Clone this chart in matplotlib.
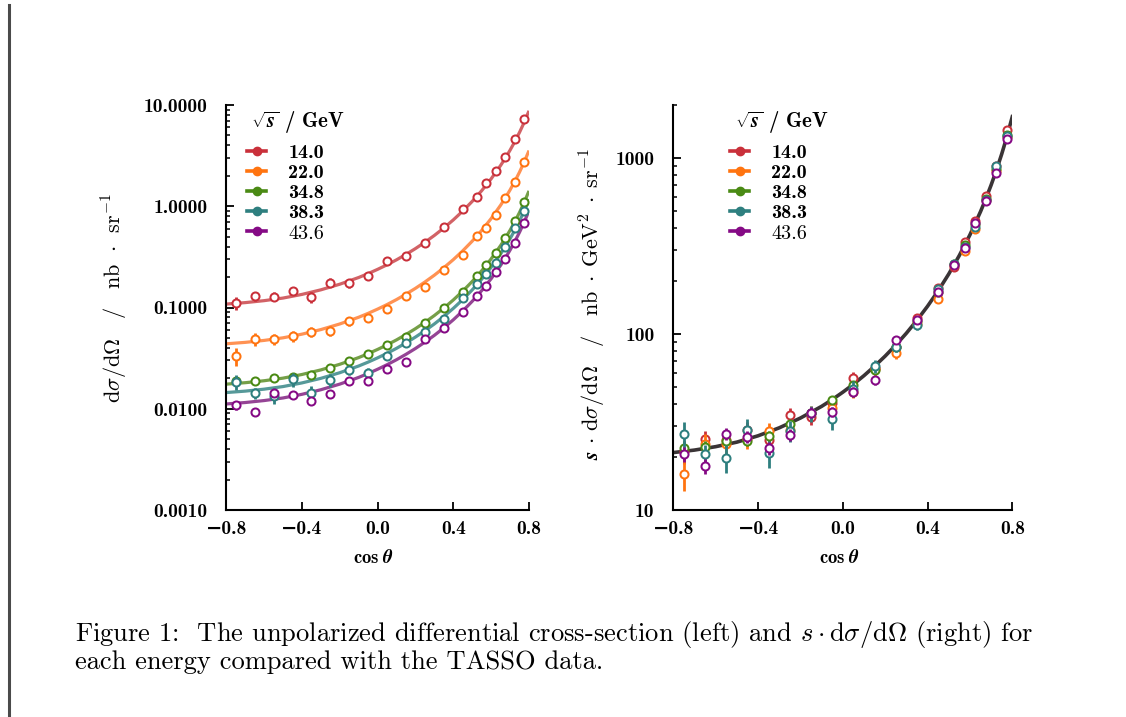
import numpy as np
import matplotlib
matplotlib.use("Agg")
import matplotlib.pyplot as plt
from matplotlib.lines import Line2D
from matplotlib.ticker import FixedLocator, FixedFormatter, LogLocator, NullFormatter

plt.rcParams['mathtext.fontset'] = 'cm'
plt.rcParams['font.family'] = 'cmr10'
plt.rcParams['axes.unicode_minus'] = False
plt.rcParams['axes.formatter.use_mathtext'] = True

# ---------------- data ----------------
energies = [14.0, 22.0, 34.8, 38.3, 43.6]
energy_labels = ["14.0", "22.0", "34.8", "38.3", "43.6"]
point_colors = ['#c9303a', '#ff7410', '#4a8a14', '#2e7f7f', '#850a85']
curve_colors = ['#d05a5e', '#ff8c4a', '#6e9a3e', '#4d9494', '#8f3a8f']

cos_bins = [-0.75, -0.65, -0.55, -0.45, -0.35, -0.25, -0.15, -0.05, 0.05, 0.15,
            0.25, 0.35, 0.45, 0.525, 0.575, 0.625, 0.675, 0.725, 0.775]

# dsigma/dOmega  [nb/sr]
xs_14 = [0.110, 0.130, 0.128, 0.146, 0.127, 0.176, 0.173, 0.206, 0.286, 0.325,
         0.431, 0.625, 0.933, 1.23, 1.69, 2.23, 3.09, 4.62, 7.33]
xs_22 = [0.0332, 0.0489, 0.0489, 0.0524, 0.0577, 0.0586, 0.0731, 0.0782, 0.0966, 0.130,
         0.161, 0.235, 0.327, 0.512, 0.614, 0.820, 1.197, 1.736, 2.735]
xs_348 = [0.0186, 0.0188, 0.0203, 0.0204, 0.0217, 0.0254, 0.0293, 0.0348, 0.0422, 0.0515,
          0.0699, 0.0982, 0.143, 0.205, 0.263, 0.348, 0.482, 0.716, 1.109]
xs_383 = [0.0184, 0.0142, 0.0135, 0.0195, 0.0143, 0.0192, 0.0241, 0.0224, 0.0334, 0.0447,
          0.0577, 0.0767, 0.1233, 0.1695, 0.213, 0.277, 0.393, 0.614, 0.903]
xs_436 = [0.0109, 0.00932, 0.0142, 0.0137, 0.0118, 0.0141, 0.0188, 0.0190, 0.0247, 0.0288,
          0.0489, 0.0631, 0.0910, 0.130, 0.163, 0.226, 0.299, 0.434, 0.678]

# relative uncertainties [%]
err_14 = [15, 10, 10, 10, 12, 10, 10, 8, 8, 7, 7, 6, 5, 5, 5, 4, 4, 4, 3]
err_22 = [20, 14, 13, 12, 12, 11, 10, 9, 8, 8, 7, 6, 5, 5, 5, 4, 4, 3, 3]
err_348 = [9, 8, 8, 7, 7, 6, 6, 5, 5, 4, 4, 3, 3, 3, 3, 3, 2, 2, 2]
err_383 = [17, 12, 18, 15, 17, 14, 10, 13, 10, 9, 7, 6, 5, 5, 4, 4, 4, 3, 3]
err_436 = [10, 10, 8, 8, 8, 8, 7, 7, 6, 6, 5, 5, 4, 4, 3, 3, 3, 3, 3]

# universal curve: s * dsigma/dOmega  [nb GeV^2 / sr]
curve_cos = [-0.8, -0.7, -0.6, -0.5, -0.4, -0.3, -0.2, -0.1, -0.05, 0.0, 0.05, 0.1, 0.15,
             0.2, 0.25, 0.3, 0.35, 0.4, 0.45, 0.5, 0.55, 0.6, 0.65, 0.675, 0.7, 0.725,
             0.75, 0.775, 0.8]
curve_sxs = [21.2, 21.9, 22.9, 24.3, 26.4, 29.3, 33.3, 38.8, 42.4, 46.7, 51.8, 58.0, 65.6,
             74.9, 86.5, 101.0, 119.7, 143.8, 175.8, 219.1, 279.3, 365.9, 495.8, 586.2,
             701.7, 852.2, 1052.9, 1327.0, 1717.5]

left_yticks = [0.001, 0.01, 0.1, 1.0, 10.0]
left_yticklabels = ["0.0010", "0.0100", "0.1000", "1.0000", "10.0000"]
right_yticks = [10, 100, 1000]
right_yticklabels = ["10", "100", "1000"]
xticks = [-0.8, -0.4, 0.0, 0.4, 0.8]
xticklabels = ["\u22120.8", "\u22120.4", "0.0", "0.4", "0.8"]

xs_all = [xs_14, xs_22, xs_348, xs_383, xs_436]
err_all = [err_14, err_22, err_348, err_383, err_436]

# ---------------- figure ----------------
W, H = 1126, 717
fig = plt.figure(figsize=(W / 100, H / 100), dpi=100)

def fx(px):
    return px / W

def fy(py):
    return 1 - py / H

ax1 = fig.add_axes([fx(226.3), fy(510), (529 - 226.3) / W, 405 / H])
ax2 = fig.add_axes([fx(673.3), fy(510), 339 / W, 405 / H])

cc = np.array(curve_cos)
cs = np.array(curve_sxs)
xb = np.array(cos_bins)

for i, E in enumerate(energies):
    s = E ** 2
    ax1.plot(cc, cs / s, color=curve_colors[i], lw=2.3, alpha=0.95, zorder=2,
             solid_capstyle='butt')

ax2.plot(cc, cs, color='#3a3436', lw=2.6, zorder=2)

for i, E in enumerate(energies):
    s = E ** 2
    v = np.array(xs_all[i])
    e = v * np.array(err_all[i]) / 100.0
    ax1.errorbar(xb, v, yerr=e, fmt='o', color=point_colors[i], mfc='white',
                 mec=point_colors[i], ms=5.8, mew=1.45, elinewidth=2.0, capsize=0,
                 zorder=3 + i)
    ax2.errorbar(xb, v * s, yerr=e * s, fmt='o', color=point_colors[i], mfc='white',
                 mec=point_colors[i], ms=5.8, mew=1.45, elinewidth=2.0, capsize=0,
                 zorder=3 + i)

tick_fs = 14
tick_family = ['cmb10', 'DejaVu Sans']
for ax in (ax1, ax2):
    ax.set_yscale('log')
    ax.set_xlim(-0.8, 0.8)
    for sp in ('top', 'right'):
        ax.spines[sp].set_visible(False)
    for sp in ('left', 'bottom'):
        ax.spines[sp].set_linewidth(1.5)
    ax.xaxis.set_major_locator(FixedLocator(xticks))
    ax.xaxis.set_major_formatter(FixedFormatter(xticklabels))
    ax.yaxis.set_minor_locator(LogLocator(base=10, subs=np.arange(2, 10), numticks=20))
    ax.yaxis.set_minor_formatter(NullFormatter())
    ax.tick_params(which='major', direction='in', length=5.5, width=1.3, labelsize=tick_fs)
    ax.tick_params(which='minor', direction='in', length=3.0, width=1.1)
    ax.tick_params(axis='y', pad=13.5)
    ax.tick_params(axis='x', pad=7)
    ax.tick_params(top=False, right=False)

ax1.set_ylim(0.001, 10)
ax1.yaxis.set_major_locator(FixedLocator(left_yticks))
ax1.yaxis.set_major_formatter(FixedFormatter(left_yticklabels))
ax2.set_ylim(10, 2000)
ax2.yaxis.set_major_locator(FixedLocator(right_yticks))
ax2.yaxis.set_major_formatter(FixedFormatter(right_yticklabels))

for ax in (ax1, ax2):
    for lab in ax.get_xticklabels() + ax.get_yticklabels():
        lab.set_fontfamily(tick_family)
        lab.set_fontweight('bold')

# axis labels
lab_fs = 16
fig.text(fx(115), fy(298),
         r'$\mathrm{d}\sigma/\mathrm{d}\Omega\quad/\quad\mathrm{nb}\;\,\cdot\;\,\mathrm{sr}^{-1}$',
         rotation=90, ha='center', va='center', fontsize=lab_fs)
fig.text(fx(593), fy(304),
         r'$\boldsymbol{s}\,\cdot\,\mathrm{d}\sigma/\mathrm{d}\Omega\quad/\quad\mathrm{nb}\;\cdot\;\mathrm{GeV}^{2}\;\cdot\;\mathrm{sr}^{-1}$',
         rotation=90, ha='center', va='center', fontsize=lab_fs)
fig.text(fx(373), fy(558), r'$\mathbf{cos}\;\boldsymbol{\theta}$', ha='center', va='center', fontsize=13.5)
fig.text(fx(839), fy(558), r'$\mathbf{cos}\;\boldsymbol{\theta}$', ha='center', va='center', fontsize=13.5)

# legends
leg_fs = 14.5
handles = [Line2D([0], [0], color=c, lw=2.6, marker='o', ms=6, mfc=c, mec=c)
           for c in point_colors]
for ax, hx, tx, axl, axw in ((ax1, 247, 251, 226.3, 302.7), (ax2, 730, 735, 673.3, 339)):
    leg = ax.legend(handles, energy_labels, loc='upper left',
                    bbox_to_anchor=((hx - axl) / axw, (510 - 144) / 405),
                    frameon=False, borderaxespad=0, borderpad=0,
                    handlelength=0.95, handletextpad=1.1, labelspacing=0.1,
                    prop={'family': 'cmb10', 'size': leg_fs})
    leg.get_texts()[4].set_fontfamily('cmr10')
    fig.text(fx(tx), fy(122.5), r'$\sqrt{\boldsymbol{s}}$ / GeV', ha='left', va='center',
             fontsize=15, fontfamily='cmb10')

# caption
cap_fs = 19.1
fig.text(fx(75), fy(641),
         r'Figure 1:  The unpolarized differential cross-section (left) and $s\cdot\mathrm{d}\sigma/\mathrm{d}\Omega$ (right) for',
         ha='left', va='baseline', fontsize=cap_fs, fontfamily='cmr10')
fig.text(fx(75), fy(669), 'each energy compared with the TASSO data.',
         ha='left', va='baseline', fontsize=cap_fs, fontfamily='cmr10')

# left vertical rule
fig.add_artist(Line2D([fx(9), fx(9)], [0, fy(5)], color='#4a4a4a', lw=2.2))

fig.savefig('out.png', dpi=100)
